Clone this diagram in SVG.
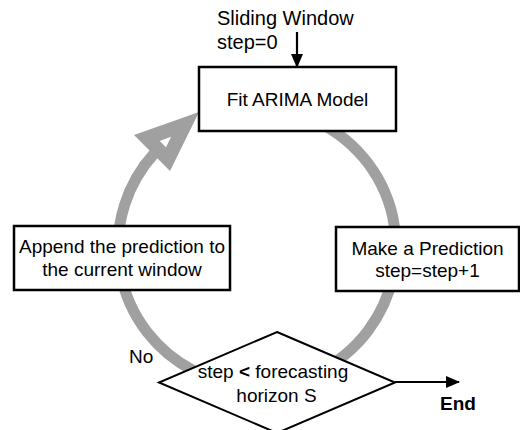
<svg xmlns="http://www.w3.org/2000/svg" width="520" height="430" viewBox="0 0 520 430">
<defs>
<style>
.t{font-family:"Liberation Sans",Arial,sans-serif;font-size:19px;fill:#000}
.s{font-size:20px}
.m{text-anchor:middle}
.b{font-weight:bold}
.box{fill:#fff;stroke:#000;stroke-width:2.5}
.ring{fill:none;stroke:#a0a0a0;stroke-width:11}
.ln{stroke:#000;stroke-width:2.2;fill:none}
</style>
<marker id="ah" viewBox="0 0 14 12" refX="13" refY="6" markerWidth="14" markerHeight="12" markerUnits="userSpaceOnUse" orient="auto">
<path d="M0 0 L14 6 L0 12 Z" fill="#000"/>
</marker>
</defs>
<rect width="520" height="430" fill="#fff"/>
<g id="connectors">
<path class="ring" d="M154.4 153.3 A139 139 0 1 0 250 108.2"/>
<path d="M199 112 L134 135 L170 171 Z M171.1 136.8 L159.7 140.9 L166 147.2 Z" fill="#a0a0a0" fill-rule="evenodd"/>
<line class="ln" x1="297" y1="32" x2="297" y2="67" marker-end="url(#ah)"/>
<line class="ln" x1="395" y1="382" x2="459" y2="382" marker-end="url(#ah)"/>
<text class="t s" x="217" y="25">Sliding Window</text>
<text class="t s" x="217" y="49">step=0</text>
<text class="t" x="129" y="363">No</text>
<text class="t b" x="440" y="410">End</text>
</g>
<g id="fit">
<rect class="box" x="199" y="67" width="197" height="64"/>
<text class="t m" x="297.5" y="106">Fit ARIMA Model</text>
</g>
<g id="predict">
<rect class="box" x="336" y="227" width="183" height="64"/>
<text class="t m" x="427.5" y="255">Make a Prediction</text>
<text class="t m" x="427.5" y="277">step=step+1</text>
</g>
<g id="append">
<rect class="box" x="14" y="226" width="216" height="64"/>
<text class="t m" x="122" y="253">Append the prediction to</text>
<text class="t m" x="122" y="276">the current window</text>
</g>
<g id="decision">
<path d="M277 332 L395 382.5 L277 433 L159 382.5 Z" fill="#fff" stroke="#000" stroke-width="2"/>
<text class="t m" x="273" y="378">step <tspan class="b">&lt;</tspan> forecasting</text>
<text class="t m" x="276.5" y="402">horizon S</text>
</g>
</svg>
